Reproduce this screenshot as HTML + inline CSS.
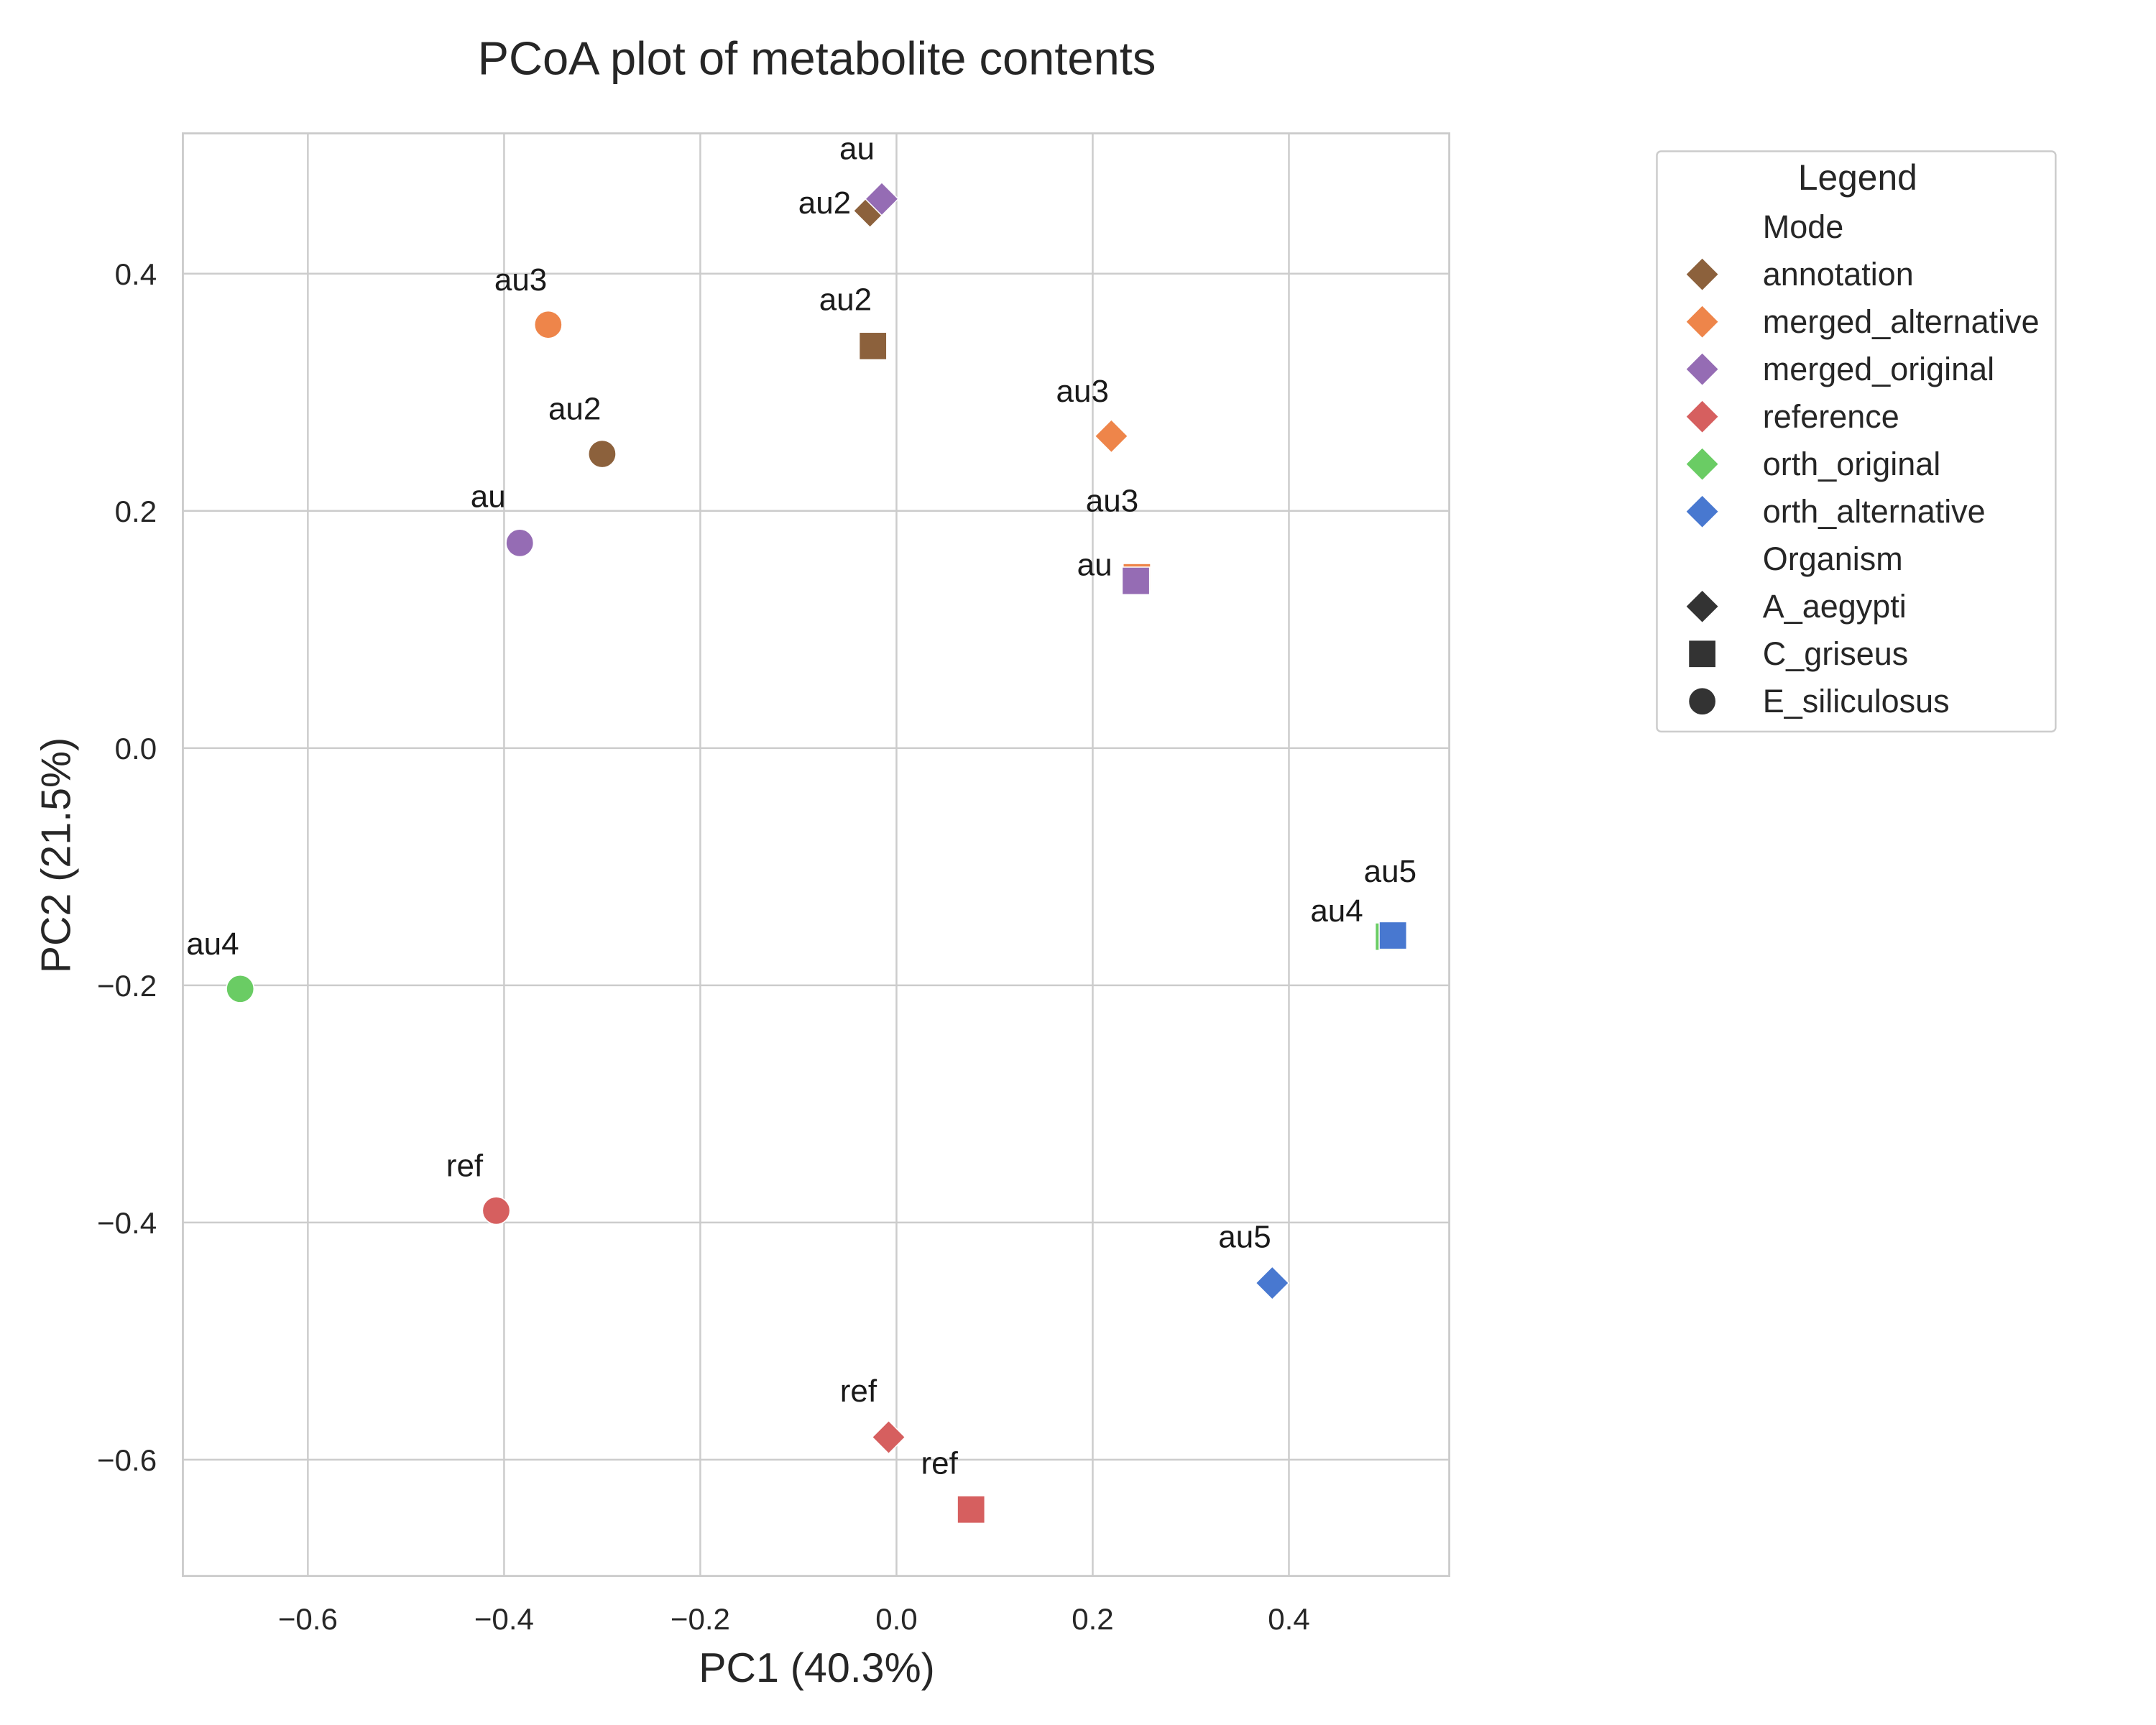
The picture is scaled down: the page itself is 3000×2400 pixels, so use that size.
<!DOCTYPE html>
<html><head><meta charset="utf-8"><style>
html,body{margin:0;padding:0;background:#fff;}
svg{display:block;font-family:"Liberation Sans",Arial,sans-serif;}
</style></head><body>
<svg id="chart" width="3000" height="2400" viewBox="0 0 1568 1254.4" xmlns="http://www.w3.org/2000/svg">
<rect x="0" y="0" width="1568" height="1254.4" fill="#fff"/>
<text x="594" y="54" font-size="34" text-anchor="middle" fill="#262626">PCoA plot of metabolite contents</text>
<g id="grid"></g>
<rect x="133" y="97" width="921" height="1049" fill="none" stroke="#cccccc" stroke-width="1.5"/>
<g id="ticks"></g>
<g id="points"></g>
<text x="594" y="1223" font-size="30" text-anchor="middle" fill="#262626">PC1 (40.3%)</text>
<text transform="translate(51,622) rotate(-90)" font-size="30" text-anchor="middle" fill="#262626">PC2 (21.5%)</text>
<g id="legend"></g>
</svg>
<script>
const xTicks = [-0.6, -0.4, -0.2, 0.0, 0.2, 0.4];
const yTicks = [0.4, 0.2, 0.0, -0.2, -0.4, -0.6];
const modes = ["annotation","merged_alternative","merged_original","reference","orth_original","orth_alternative"];
const organisms = ["A_aegypti","C_griseus","E_siliculosus"];
const pointMode = ["annotation","annotation","annotation","merged_alternative","merged_alternative","merged_alternative","merged_original","merged_original","merged_original","reference","reference","reference","orth_original","orth_original","orth_alternative","orth_alternative"];
const pointOrg = ["A_aegypti","C_griseus","E_siliculosus","E_siliculosus","A_aegypti","C_griseus","A_aegypti","E_siliculosus","C_griseus","E_siliculosus","A_aegypti","C_griseus","E_siliculosus","C_griseus","A_aegypti","C_griseus"];
const pc1 = [-0.027,-0.024,-0.300,-0.355,0.219,0.245,-0.015,-0.384,0.244,-0.408,-0.008,0.076,-0.669,0.502,0.383,0.506];
const pc2 = [0.453,0.339,0.248,0.357,0.263,0.144,0.463,0.173,0.141,-0.390,-0.581,-0.642,-0.203,-0.159,-0.451,-0.158];
const pointLabels = ["au2","au2","au2","au3","au3","au3","au","au","au","ref","ref","ref","au4","au4","au5","au5"];
const labelDx = [-33,-20,-20,-20,-21,-18,-18,-23,-30,-23,-22,-23,-20,-38,-20,-2];
const labelDy = [-6,-34,-33,-33,-33,-56,-37,-34,-12,-33,-34,-34,-33,-19,-34,-47];

const colors = {annotation:"#8c613c",merged_alternative:"#ee854a",merged_original:"#956cb4",reference:"#d65f5f",orth_original:"#6acc64",orth_alternative:"#4878d0"};
const NS="http://www.w3.org/2000/svg";
const X = v => 652 + 713.5*v;
const Y = v => 544 - 862.5*v;
function mk(tag, attrs, parent){const e=document.createElementNS(NS,tag);for(const k in attrs)e.setAttribute(k,attrs[k]);parent.appendChild(e);return e;}
const grid=document.getElementById('grid'), ticks=document.getElementById('ticks');
xTicks.forEach(t=>{
  const l=mk('line',{x1:X(t),x2:X(t),y1:97,y2:1146,stroke:'#cccccc','stroke-width':1.3},grid);
  
  
  const tx=mk('text',{x:X(t),y:1185,'font-size':22,'text-anchor':'middle',fill:'#262626'},ticks);
  tx.textContent=(t<0?'\u2212':'')+Math.abs(t).toFixed(1);
  
  
});
yTicks.forEach(t=>{
  const l=mk('line',{x1:133,x2:1054,y1:Y(t),y2:Y(t),stroke:'#cccccc','stroke-width':1.3},grid);
  
  
  const tx=mk('text',{x:114,y:Y(t)+8,'font-size':22,'text-anchor':'end',fill:'#262626'},ticks);
  tx.textContent=(t<0?'\u2212':'')+Math.abs(t).toFixed(1);
  
  
});
function marker(org,cx,cy,color,parent){
  let e;
  if(org==="A_aegypti") e=mk('path',{d:`M${cx} ${cy-12}L${cx+12} ${cy}L${cx} ${cy+12}L${cx-12} ${cy}Z`,fill:color,stroke:'#fff','stroke-width':0.8},parent);
  else if(org==="C_griseus") e=mk('rect',{x:cx-10,y:cy-10,width:20,height:20,fill:color,stroke:'#fff','stroke-width':0.8},parent);
  else e=mk('circle',{cx:cx,cy:cy,r:10,fill:color,stroke:'#fff','stroke-width':0.8},parent);
  return e;
}
const pts=document.getElementById('points');
for(let i=0;i<pc1.length;i++){
  const cx=X(pc1[i]), cy=Y(pc2[i]);
  const m=marker(pointOrg[i],cx,cy,colors[pointMode[i]],pts);
  
  
}
for(let i=0;i<pc1.length;i++){
  const cx=X(pc1[i]), cy=Y(pc2[i]);
  const t=mk('text',{x:cx+labelDx[i],y:cy+labelDy[i]+8,'font-size':23,'text-anchor':'middle',fill:'#1a1a1a'},pts);
  t.textContent=pointLabels[i];
  
  
}
const lg=document.getElementById('legend');
const box=mk('rect',{x:1205,y:110,width:290,height:422,rx:3,fill:'#fff',stroke:'#cccccc','stroke-width':1.3},lg);


const lt=mk('text',{x:1351,y:138,'font-size':26,'text-anchor':'middle',fill:'#262626'},lg);
lt.textContent='Legend';


const rows=[['h','Mode']].concat(modes.map(m=>['m',m]),[['h','Organism']],organisms.map(o=>['o',o]));
rows.forEach((r,i)=>{
  const y=165+i*34.5;
  if(r[0]==='m'){const mm=marker('A_aegypti',1238,y,colors[r[1]],lg);}
  if(r[0]==='o'){const mm=marker(r[1],1238,y,'#333333',lg);}
  const t=mk('text',{x:1282,y:y+8,'font-size':23.5,fill:'#262626'},lg);
  t.textContent=r[1];
  
  
});
</script>
</body></html>
